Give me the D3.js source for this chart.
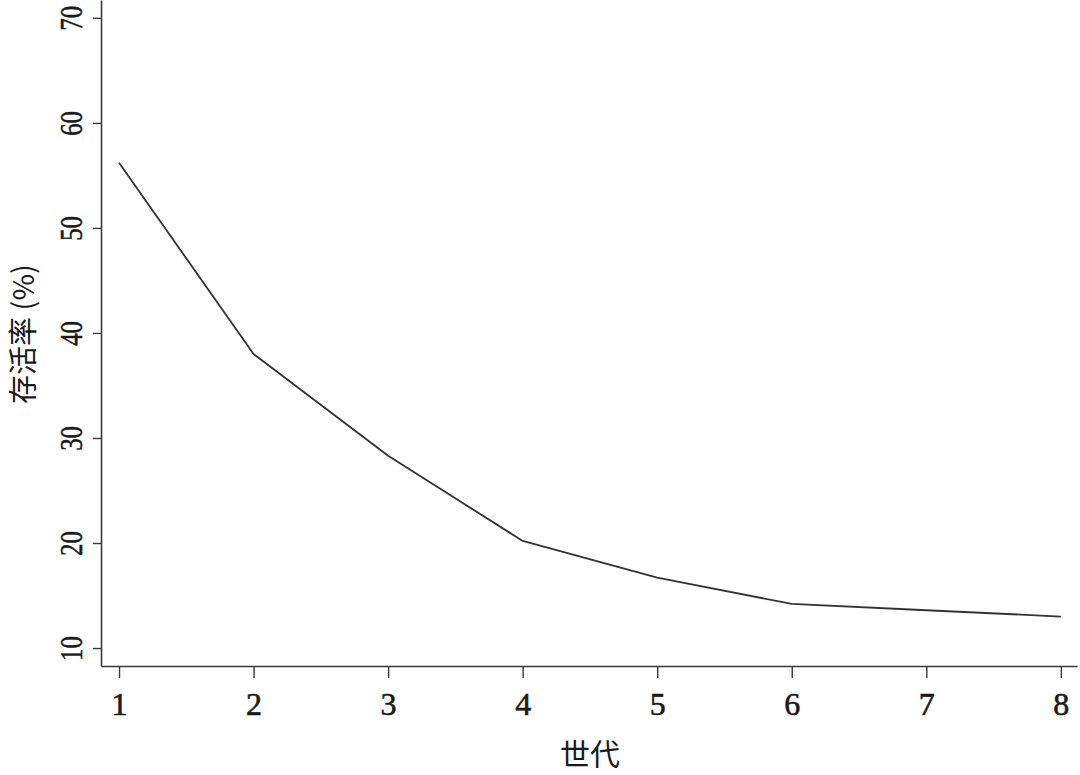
<!DOCTYPE html>
<html>
<head>
<meta charset="utf-8">
<script src="https://cdn.jsdelivr.net/npm/d3@7"></script>
<style>
  html, body { margin: 0; padding: 0; background: #fff; }
  svg { display: block; }
</style>
</head>
<body>
<script>
const generations = [1, 2, 3, 4, 5, 6, 7, 8];
const survivalRate = [56.2, 38.0, 28.3, 20.2, 16.7, 14.2, 13.6, 13.0];
const xTicks = [1, 2, 3, 4, 5, 6, 7, 8];
const yTicks = [10, 20, 30, 40, 50, 60, 70];
const xTitle = "世代";
const yTitle = "存活率 (%)";

const W = 1080, H = 775;
const svg = d3.select("body").append("svg").attr("width", W).attr("height", H);

const x = d3.scaleLinear().domain([0.866, 8.12]).range([101, 1077]);
const y = d3.scaleLinear().domain([8.29, 71.7]).range([666, 0]);

const axisColor = "#3a3a3a";
const serif = "'Liberation Serif', 'DejaVu Serif', serif";

// X axis
const gx = svg.append("g").attr("transform", `translate(0,${y.range()[0]})`)
  .call(d3.axisBottom(x).tickValues(xTicks).tickFormat(d3.format("d")).tickSize(12).tickSizeOuter(0).tickPadding(16));
gx.attr("font-family", serif);
gx.select(".domain").attr("stroke", axisColor).attr("stroke-width", 1.6);
gx.selectAll(".tick line").attr("stroke", axisColor).attr("stroke-width", 1.4);
gx.selectAll(".tick text").attr("fill", "#1a1a1a").attr("font-family", serif)
  .attr("font-size", 32).attr("dy", "0.66em")
  .attr("stroke", "#1a1a1a").attr("stroke-width", 0.6);

// Y axis
const gy = svg.append("g").attr("transform", `translate(${x.range()[0]},0)`)
  .call(d3.axisLeft(y).tickValues(yTicks).tickFormat(d3.format("d")).tickSize(8).tickSizeOuter(0));
gy.attr("font-family", serif);
gy.select(".domain").attr("stroke", axisColor).attr("stroke-width", 1.6);
gy.selectAll(".tick line").attr("stroke", axisColor).attr("stroke-width", 1.4);
gy.selectAll(".tick text")
  .attr("x", null).attr("dy", null)
  .attr("text-anchor", "middle")
  .attr("fill", "#1a1a1a").attr("font-family", serif).attr("font-size", 31)
  .attr("stroke", "#1a1a1a").attr("stroke-width", 0.5)
  .attr("transform", "translate(-19,0) rotate(-90) scale(0.8,1)");

// Line
const line = d3.line().x((d, i) => x(generations[i])).y(d => y(d));
svg.append("path").datum(survivalRate)
  .attr("fill", "none").attr("stroke", "#333").attr("stroke-width", 1.8)
  .attr("stroke-linejoin", "round")
  .attr("d", line);

// Titles
svg.append("text")
  .attr("x", 590).attr("y", 765)
  .attr("text-anchor", "middle")
  .attr("font-family", "'Noto Sans CJK SC', sans-serif")
  .attr("font-size", 30).attr("fill", "#1a1a1a")
  .text(xTitle);

svg.append("text")
  .attr("transform", "translate(34,334) rotate(-90)")
  .attr("text-anchor", "middle")
  .attr("font-family", "'Noto Sans CJK SC', sans-serif")
  .attr("font-size", 29).attr("fill", "#1a1a1a")
  .text(yTitle);
</script>
</body>
</html>
